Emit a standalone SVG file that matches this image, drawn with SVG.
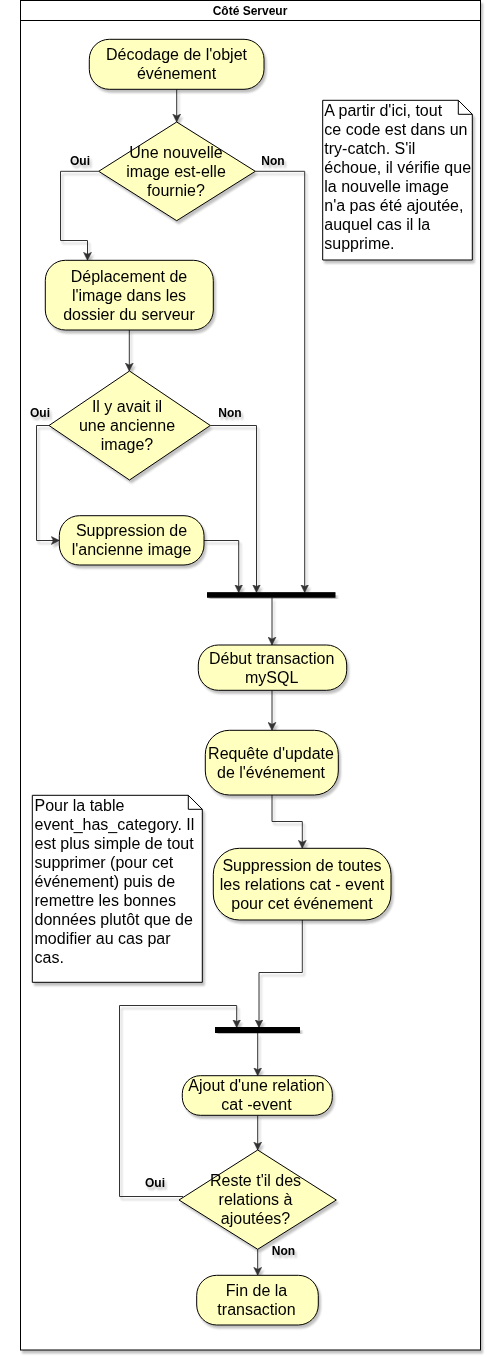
<svg xmlns="http://www.w3.org/2000/svg" width="487" height="1357" viewBox="0 0 487 1357">
<style>
.node{fill:#FFFFC0;stroke:#000;stroke-width:1}
.note{fill:#fff;stroke:#000;stroke-width:1}
.bar{fill:#000;stroke:#000;stroke-width:1}
.edge{fill:none;stroke:#333;stroke-width:1;marker-end:url(#arr)}
.edgen{fill:none;stroke:#333;stroke-width:1}
.t{font-family:"Liberation Sans",Arial,sans-serif;font-size:16px;fill:#000;text-anchor:middle}
.tl{font-family:"Liberation Sans",Arial,sans-serif;font-size:16px;fill:#000;text-anchor:start}
.lb{font-family:"Liberation Sans",Arial,sans-serif;font-size:12px;font-weight:bold;fill:#000;text-anchor:middle}
</style>
<defs>
<filter id="sh" x="-10%" y="-10%" width="130%" height="130%">
<feGaussianBlur in="SourceAlpha" stdDeviation="1.2"/>
<feOffset dx="2" dy="3" result="o"/>
<feComponentTransfer><feFuncA type="linear" slope="0.25"/></feComponentTransfer>
<feMerge><feMergeNode/><feMergeNode in="SourceGraphic"/></feMerge>
</filter>
<marker id="arr" viewBox="-8 -4.5 8 9" refX="0" refY="0" markerWidth="8" markerHeight="9" markerUnits="userSpaceOnUse" orient="auto">
<path d="M-8,-4 L0,0 L-8,4 L-6,0 Z" fill="#333" stroke="#333" stroke-width="0.5"/>
</marker>
</defs>
<rect width="487" height="1357" fill="#fff"/>
<g id="frame" filter="url(#sh)">
<rect x="20.5" y="0.5" width="460" height="1349.5" fill="#fff" stroke="#000"/>
<line x1="20.5" y1="20.5" x2="480.5" y2="20.5" stroke="#000"/>
<text x="250" y="15" class="lb">Côté Serveur</text>
</g>
<g id="connectors" filter="url(#sh)">
<path class="edge" d="M176.7,89.3 V122"/>
<path class="edge" d="M98.7,171.3 H60.5 V240.5 H87.5 V260.3"/>
<path class="edgen" d="M255.3,171.3 H304.7 V300"/>
<path class="edge" d="M304.7,300 V592.5"/>
<path class="edge" d="M129.3,330 V371"/>
<path class="edge" d="M49,425.5 H36.5 V540.5 H59.3"/>
<path class="edge" d="M210.3,425.5 H256.5 V592.5"/>
<path class="edge" d="M204,540.5 H238.7 V592.5"/>
<path class="edge" d="M272,597.7 V645"/>
<path class="edge" d="M272,690.3 V730.3"/>
<path class="edge" d="M272,795 V821.5 H302.3 V848.3"/>
<path class="edge" d="M302.3,920 V972.5 H259 V1027.5"/>
<path class="edge" d="M257.7,1033 V1075.7"/>
<path class="edge" d="M257.7,1115.3 V1150"/>
<path class="edge" d="M183,1196.5 H119.5 V1005.5 H236.7 V1027.5"/>
<path class="edge" d="M257.7,1249.3 V1275.3"/>
<text x="80" y="165" class="lb">Oui</text>
<text x="273" y="165" class="lb">Non</text>
<text x="40" y="417" class="lb">Oui</text>
<text x="230" y="417" class="lb">Non</text>
<text x="155" y="1187" class="lb">Oui</text>
<text x="283.5" y="1255" class="lb">Non</text>
</g>
<g id="n1" filter="url(#sh)">
<rect class="node" x="89.3" y="39.3" width="174.7" height="50" rx="20"/>
<text class="t" x="176.5" y="59.8">Décodage de l'objet</text>
<text class="t" x="176.5" y="78.5">événement</text>
</g>
<g id="d1" filter="url(#sh)">
<polygon class="node" points="176.7,122 255.3,171.3 176.7,220.7 98.7,171.3"/>
<text class="t" x="176" y="157.8">Une nouvelle</text>
<text class="t" x="176" y="176.8">image est-elle</text>
<text class="t" x="176" y="195.8">fournie?</text>
</g>
<g id="note1" filter="url(#sh)">
<path class="note" d="M322.7,100.3 H458.3 L472.3,114.3 V260 H322.7 Z"/>
<path d="M458.3,100.3 V114.3 H472.3" fill="none" stroke="#000"/>
<text class="tl" x="324.3" y="115.5">A partir d'ici, tout</text>
<text class="tl" x="324.3" y="134.5">ce code est dans un</text>
<text class="tl" x="324.3" y="153.5">try-catch. S'il</text>
<text class="tl" x="324.3" y="172.5">échoue, il vérifie que</text>
<text class="tl" x="324.3" y="191.5">la nouvelle image</text>
<text class="tl" x="324.3" y="210.5">n'a pas été ajoutée,</text>
<text class="tl" x="324.3" y="229.5">auquel cas il la</text>
<text class="tl" x="324.3" y="248.5">supprime.</text>
</g>
<g id="n2" filter="url(#sh)">
<rect class="node" x="45.3" y="260.3" width="168" height="69.7" rx="20"/>
<text class="t" x="129" y="282.2">Déplacement de</text>
<text class="t" x="129" y="301">l'image dans les</text>
<text class="t" x="129" y="319.8">dossier du serveur</text>
</g>
<g id="d2" filter="url(#sh)">
<polygon class="node" points="129.5,371 210.3,425.5 129.5,480 49,425.5"/>
<text class="t" x="127" y="412.2">Il y avait il</text>
<text class="t" x="127" y="431">une ancienne</text>
<text class="t" x="127" y="449.8">image?</text>
</g>
<g id="n3" filter="url(#sh)">
<rect class="node" x="59.3" y="515.7" width="144.7" height="49.3" rx="20"/>
<text class="t" x="131.5" y="535.5">Suppression de</text>
<text class="t" x="131.5" y="554.8">l'ancienne image</text>
</g>
<g id="bar1" filter="url(#sh)">
<rect class="bar" x="207.5" y="592.7" width="127.5" height="4.5"/>
</g>
<g id="n4" filter="url(#sh)">
<rect class="node" x="198.3" y="645" width="148.4" height="45.3" rx="20"/>
<text class="t" x="271.7" y="663.8">Début transaction</text>
<text class="t" x="271.7" y="682.8">mySQL</text>
</g>
<g id="n5" filter="url(#sh)">
<rect class="node" x="205.3" y="730.3" width="133" height="64.7" rx="24"/>
<text class="t" x="271" y="758.8">Requête d'update</text>
<text class="t" x="271" y="777.8">de l'événement</text>
</g>
<g id="n6" filter="url(#sh)">
<rect class="node" x="213.3" y="848.3" width="177.7" height="71.7" rx="26"/>
<text class="t" x="302" y="871.2">Suppression de toutes</text>
<text class="t" x="302" y="890">les relations cat - event</text>
<text class="t" x="302" y="908.8">pour cet événement</text>
</g>
<g id="note2" filter="url(#sh)">
<path class="note" d="M32.3,795.3 H188.3 L202.3,809.3 V982.3 H32.3 Z"/>
<path d="M188.3,795.3 V809.3 H202.3" fill="none" stroke="#000"/>
<text class="tl" x="34.5" y="810.8">Pour la table</text>
<text class="tl" x="34.5" y="829.8">event_has_category. Il</text>
<text class="tl" x="34.5" y="848.8">est plus simple de tout</text>
<text class="tl" x="34.5" y="867.8">supprimer (pour cet</text>
<text class="tl" x="34.5" y="886.8">événement) puis de</text>
<text class="tl" x="34.5" y="905.8">remettre les bonnes</text>
<text class="tl" x="34.5" y="924.8">données plutôt que de</text>
<text class="tl" x="34.5" y="943.8">modifier au cas par</text>
<text class="tl" x="34.5" y="962.8">cas.</text>
</g>
<g id="bar2" filter="url(#sh)">
<rect class="bar" x="215.5" y="1027.5" width="84" height="5"/>
</g>
<g id="n7" filter="url(#sh)">
<rect class="node" x="182.3" y="1075.7" width="150" height="39.6" rx="18"/>
<text class="t" x="256.5" y="1090.8">Ajout d'une relation</text>
<text class="t" x="256.5" y="1109.8">cat -event</text>
</g>
<g id="d3" filter="url(#sh)">
<polygon class="node" points="257.7,1150 336.3,1200 257.7,1249.3 179,1200"/>
<text class="t" x="255.5" y="1185.8">Reste t'il des</text>
<text class="t" x="255.5" y="1204.8">relations à</text>
<text class="t" x="255.5" y="1223.8">ajoutées?</text>
</g>
<g id="n8" filter="url(#sh)">
<rect class="node" x="196.7" y="1275.3" width="121.6" height="49.7" rx="20"/>
<text class="t" x="256.5" y="1295.8">Fin de la</text>
<text class="t" x="256.5" y="1314.8">transaction</text>
</g>
</svg>
